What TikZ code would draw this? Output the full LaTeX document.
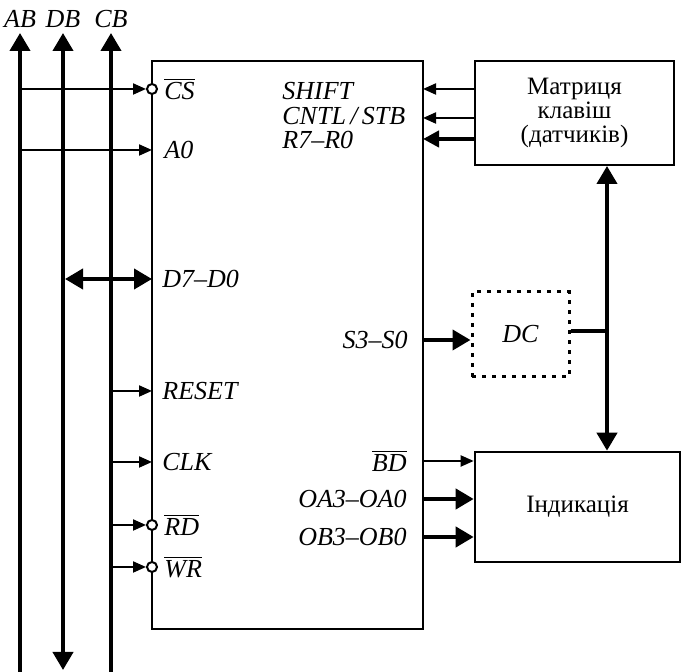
\documentclass[tikz,border=0pt]{standalone}
\usepackage{fontspec}
\setmainfont{Liberation Serif}
\usetikzlibrary{arrows.meta,positioning,calc}
\newcommand\lowact[1]{$\overline{\mbox{#1}}$}

\begin{document}
\begin{tikzpicture}[x=0.5pt,y=-0.5pt,
  font=\fontsize{12.5}{11.8}\selectfont,
  bus/.style={line width=2pt},
  sig/.style={line width=1pt,-{Triangle[length=6.5pt,width=5.5pt]}},
  wide/.style={line width=2pt,-{Triangle[length=9pt,width=10pt]}},
  both/.style={line width=2pt,{Triangle[length=9pt,width=10pt]}-{Triangle[length=9pt,width=10pt]}},
  block/.style={draw,line width=1pt,inner sep=0pt,align=center},
  pin/.style={font=\fontsize{13}{14}\selectfont\itshape,inner sep=0pt},
  bubble/.style={circle,draw,fill=white,line width=1pt,inner sep=0pt,minimum size=5pt}]
\useasboundingbox (0,0) rectangle (682,672);
% blocks
\node[block,minimum width=135.5pt,minimum height=284pt] (ctl) at (287.5,345) {};
\node[block,minimum width=99.5pt,minimum height=52pt] (keys) at (574.5,113)
  {Матриця\\клавіш\\(датчиків)};
\node[block,line width=1.3pt,minimum width=102.5pt,minimum height=55pt] (ind) at (577.5,507) {Індикація};
\node[block,line width=1.5pt,dash pattern=on 2pt off 3pt,minimum width=48.5pt,minimum height=42.5pt,
  font=\fontsize{13}{14}\selectfont\itshape] (dc) at (520.5,334.5) {DC};
% buses
\coordinate (ab0) at (20,33);  \coordinate (ab1) at (20,672);
\coordinate (db0) at (63,33);  \coordinate (db1) at (63,670);
\coordinate (cb0) at (111,33); \coordinate (cb1) at (111,672);
\draw[bus,-{Triangle[length=9pt,width=10pt]}] (ab1) -- (ab0);
\draw[bus,{Triangle[length=9pt,width=10pt]}-{Triangle[length=9pt,width=10pt]}] (db1) -- (db0);
\draw[bus,-{Triangle[length=9pt,width=10pt]}] (cb1) -- (cb0);
\node[pin,above=2.5pt of ab0] (abl) {AB};
\node[pin,above=2.5pt of db0] (dbl) {DB};
\node[pin,above=2.5pt of cb0] (cbl) {CB};
% left pins
\coordinate (cs) at (152,89);
\coordinate (a0) at (152,150);
\coordinate (d) at (152,279);
\coordinate (reset) at (152,391);
\coordinate (clk) at (152,462);
\coordinate (rd) at (152,525);
\coordinate (wr) at (152,567);
\node[bubble] (csb) at (cs) {};
\node[bubble] (rdb) at (rd) {};
\node[bubble] (wrb) at (wr) {};
\draw[sig] (cs -| ab0) -- (csb.west);
\draw[sig] (a0 -| ab0) -- (a0);
\draw[both] ($(d -| db0)+(2,0)$) -- (d);
\draw[sig] (reset -| cb0) -- (reset);
\draw[sig] (clk -| cb0) -- (clk);
\draw[sig] (rd -| cb0) -- (rdb.west);
\draw[sig] (wr -| cb0) -- (wrb.west);
\node[pin,right=6pt of cs] (csl) {\lowact{CS}};
\node[pin,right=6pt of a0] (a0l) {A0};
\node[pin,right=5pt of d] (dl) {D7--D0};
\node[pin,right=5pt of reset] (resetl) {RESET};
\node[pin,right=5pt of clk] (clkl) {CLK};
\node[pin,right=6pt of rd] (rdl) {\lowact{RD}};
\node[pin,right=6pt of wr] (wrl) {\lowact{WR}};
% right pins
\coordinate (shift) at (423,89);
\coordinate (cntl) at (423,118);
\coordinate (r) at (423,139);
\coordinate (s) at (423,340);
\coordinate (bd) at (423,461);
\coordinate (oa) at (423,499);
\coordinate (ob) at (423,537);
\draw[sig] (shift -| keys.west) -- (shift);
\draw[sig] (cntl -| keys.west) -- (cntl);
\draw[wide,-{Triangle[length=8pt,width=8pt]}] (r -| keys.west) -- (r);
\draw[wide] (s) -- (s -| dc.west);
\draw[sig] (bd) -- (bd -| ind.west);
\draw[wide] (oa) -- (oa -| ind.west);
\draw[wide] (ob) -- (ob -| ind.west);
\node[pin,anchor=west] (shiftl) at (282,91) {SHIFT};
\node[pin,anchor=west] (cntll) at (282,116) {CNTL\,/\,STB};
\node[pin,anchor=west] (rl) at (282,140) {R7--R0};
\node[pin,left=7.5pt of s] (sl) {S3--S0};
\node[pin,left=8pt of bd] (bdl) {\lowact{BD}};
\node[pin,left=8pt of oa] (oal) {OA3--OA0};
\node[pin,left=8pt of ob] (obl) {OB3--OB0};
% link between keys, dc and display
\coordinate (link) at (607,331);
\draw[both] (keys.south -| link) -- (ind.north -| link);
\draw[line width=2pt] (dc.east |- link) -- (link);
\end{tikzpicture}
\end{document}
